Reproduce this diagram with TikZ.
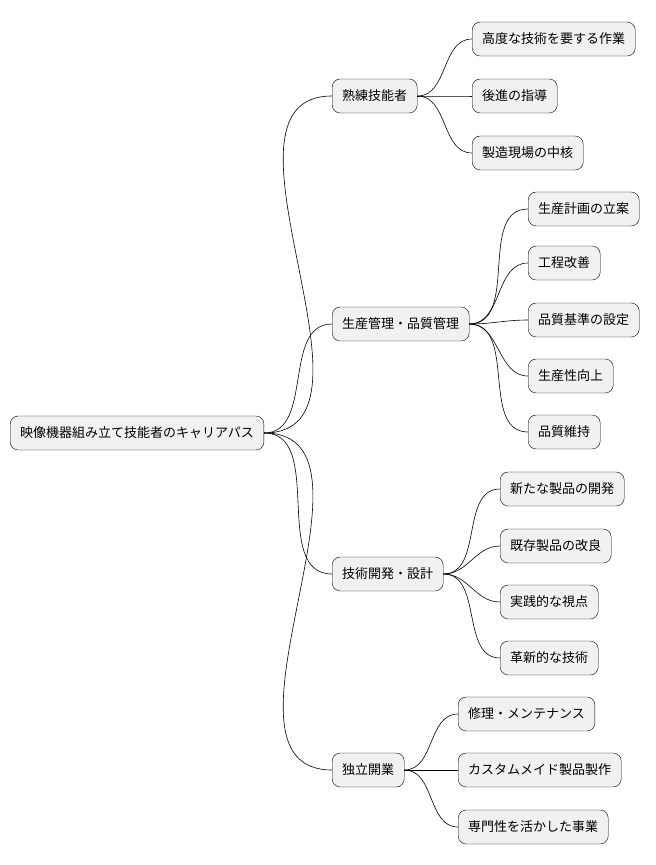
\documentclass[tikz,border=0pt]{standalone}
\usepackage{fontspec}
\setmainfont{Noto Sans CJK JP}
\definecolor{boxfill}{RGB}{241,241,241}
\usetikzlibrary{positioning}
\tikzset{
  topic/.style={draw=black, fill=boxfill, rounded corners=8pt, anchor=west,
    minimum height=34pt, inner xsep=10pt, font=\fontsize{13}{15}\selectfont},
  link/.style={draw=black, line width=0.6pt}
}
\begin{document}
\begin{tikzpicture}[x=1pt, y=-1pt]
  \useasboundingbox (0,0) rectangle (656,865);

  % Root
  \node[topic] (root) at (10,433) {映像機器組み立て技能者のキャリアパス};

  % Branches
  \foreach \n/\y/\t in {skill/96/熟練技能者, prod/324/生産管理・品質管理,
                        dev/574/技術開発・設計, indep/770/独立開業} {
    \node[topic] (\n) at (332,\y) {\t};
    \draw[link] (root.east) to[out=0, in=180] (\n.west);
  }

  % Leaves
  \foreach \p/\n/\y/\t in {skill/s1/39/高度な技術を要する作業, skill/s2/96/後進の指導,
      skill/s3/153/製造現場の中核} {
    \node[topic] (\n) at (472,\y) {\t};
    \draw[link] (\p.east) to[out=0, in=180] (\n.west);
  }
  \foreach \p/\n/\y/\t in {prod/p1/209/生産計画の立案, prod/p2/263/工程改善,
      prod/p3/320/品質基準の設定, prod/p4/376/生産性向上, prod/p5/432/品質維持} {
    \node[topic] (\n) at (528,\y) {\t};
    \draw[link] (\p.east) to[out=0, in=180] (\n.west);
  }
  \foreach \p/\n/\y/\t in {dev/d1/489/新たな製品の開発, dev/d2/546/既存製品の改良,
      dev/d3/602/実践的な視点, dev/d4/658/革新的な技術} {
    \node[topic] (\n) at (500,\y) {\t};
    \draw[link] (\p.east) to[out=0, in=180] (\n.west);
  }
  \foreach \p/\n/\y/\t in {indep/i1/714/修理・メンテナンス, indep/i2/770/カスタムメイド製品製作,
      indep/i3/827/専門性を活かした事業} {
    \node[topic] (\n) at (458,\y) {\t};
    \draw[link] (\p.east) to[out=0, in=180] (\n.west);
  }
\end{tikzpicture}
\end{document}
